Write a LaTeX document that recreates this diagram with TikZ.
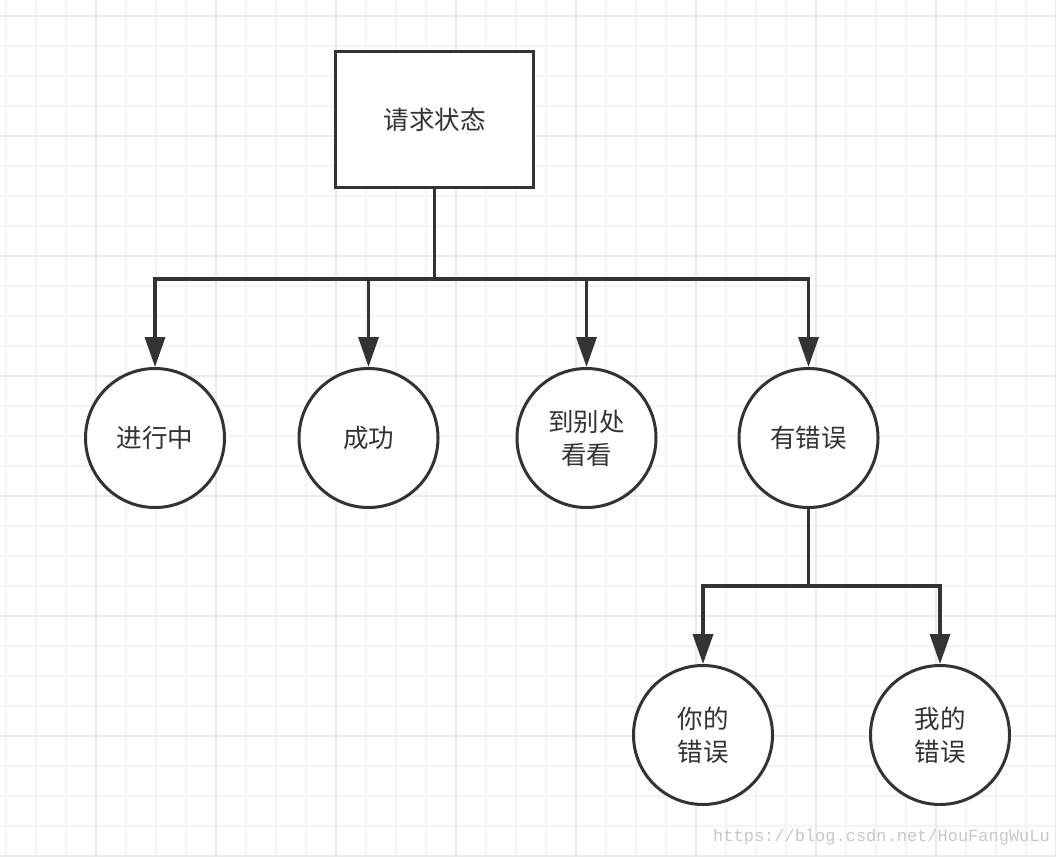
\documentclass[tikz,border=0pt]{standalone}
\usepackage{fontspec}
\newfontfamily\cjk{Noto Sans CJK SC}
\newfontfamily\wmfont{Liberation Mono}
\usetikzlibrary{arrows.meta}
\definecolor{ink}{HTML}{333333}
\definecolor{gridminor}{HTML}{F4F4F4}
\definecolor{gridmajor}{HTML}{EAEAEA}
\definecolor{wmgray}{HTML}{C8C8C8}
\begin{document}
\begin{tikzpicture}[x=1pt,y=-1pt,
  label font/.style={font={\cjk\fontsize{25.5}{33}\selectfont}, text=ink},
  box/.style={rectangle, draw=ink, line width=3pt, fill=white,
    minimum width=198pt, minimum height=136pt, inner sep=0pt, label font},
  state/.style={circle, draw=ink, line width=3pt, fill=white,
    minimum size=139pt, inner sep=0pt, align=center, label font},
  link/.style={draw=ink, line width=3.5pt, line join=miter},
  flow/.style={link, -{Triangle[length=30pt,width=20pt]}},
  minorline/.style={draw=gridminor, line width=1.6pt},
  majorline/.style={draw=gridmajor, line width=1.6pt},
]
% page and background
\useasboundingbox (0,0) rectangle (1056,856);
\fill[white] (0,0) rectangle (1056,856);

% grid paper
\foreach \gx in {6,36,...,1056} \draw[minorline] (\gx,0) -- (\gx,856);
\foreach \gy in {16,46,...,856} \draw[minorline] (0,\gy) -- (1056,\gy);
\foreach \gx in {96,216,...,1056} \draw[majorline] (\gx,0) -- (\gx,856);
\foreach \gy in {16,136,...,856} \draw[majorline] (0,\gy) -- (1056,\gy);

% nodes
\node[box] (req) at (434.5,119.5) {请求状态};
\node[state] (s1) at (155,438) {进行中};
\node[state] (s2) at (368.5,438) {成功};
\node[state] (s3) at (586.5,438) {到别处\\看看};
\node[state] (s4) at (808.5,438) {有错误};
\node[state] (s5) at (703,735) {你的\\错误};
\node[state] (s6) at (940,735) {我的\\错误};

% branch points
\coordinate (fork1) at (434.5,279);
\coordinate (fork2) at (808.5,586);

% connectors
\draw[link] (req) -- (fork1);
\draw[flow] (fork1) -| (s1);
\draw[flow] (fork1) -| (s2);
\draw[flow] (fork1) -| (s3);
\draw[flow] (fork1) -| (s4);
\draw[link] (s4) -- (fork2);
\draw[flow] (fork2) -| (s5);
\draw[flow] (fork2) -| (s6);

% source note
\node[font={\wmfont\fontsize{17}{18}\selectfont}, text=wmgray, anchor=west, inner sep=0pt]
  (mark) at (713,837) {https://blog.csdn.net/HouFangWuLu};
\end{tikzpicture}
\end{document}
